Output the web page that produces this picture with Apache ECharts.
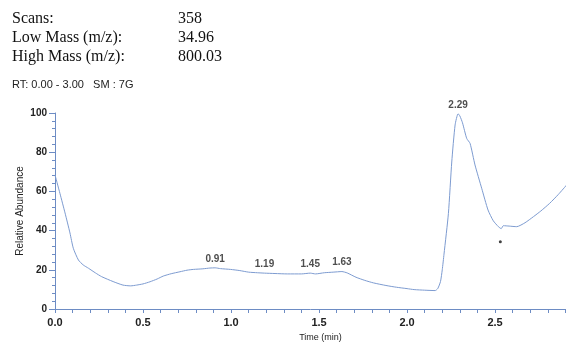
<!DOCTYPE html>
<html><head><meta charset="utf-8">
<script src="https://cdn.jsdelivr.net/npm/echarts@6/dist/echarts.min.js"></script>
<style>html,body{margin:0;padding:0;background:#fff}#c{width:566px;height:344px}</style>
</head><body><div id="c"></div>
<script>
// Chromatogram trace: retention time (min) and relative abundance (%)
var times = [0.00,0.028,0.057,0.085,0.104,0.133,0.16,0.19,0.23,0.265,0.33,0.386,0.43,0.464,0.50,0.54,0.58,0.615,0.66,0.71,0.75,0.786,0.84,0.88,0.91,0.94,0.997,1.05,1.10,1.15,1.19,1.25,1.32,1.40,1.45,1.48,1.53,1.58,1.63,1.66,1.71,1.76,1.81,1.88,1.94,2.00,2.04,2.10,2.16,2.175,2.19,2.20,2.21,2.235,2.254,2.273,2.29,2.30,2.315,2.339,2.358,2.386,2.424,2.46,2.49,2.519,2.535,2.547,2.58,2.623,2.67,2.718,2.76,2.81,2.86,2.907];
var abundance = [68.4,59,49,38.8,31,25,22.5,20.8,18.4,16.5,14,12.2,11.8,12.2,12.8,13.9,15.3,16.8,18,19,19.8,20.2,20.5,20.9,21,20.6,20.2,19.6,18.8,18.5,18.3,18.1,17.9,17.9,18.3,17.9,18.5,18.8,19.1,18.4,16.2,14.6,13.3,12,11.1,10.4,9.9,9.6,9.4,10.5,14,20,28,48.8,75,93.9,99.6,98.5,95,87,84.5,73.5,61.6,50.5,45,42,41,42.5,42.3,42,44,47.1,50,53.9,58.5,63.3];
var peakTimes = [0.91, 1.19, 1.45, 1.63, 2.29];
var peakLabels = ["0.91", "1.19", "1.45", "1.63", "2.29"];
var dotPoint = [[2.53, 34.3]];
var header = [["Scans:", "358"], ["Low Mass (m/z):", "34.96"], ["High Mass (m/z):", "800.03"]];
var rtText = "RT: 0.00 - 3.00   SM : 7G";
var xMin = 0, xMax = 2.903, xTickStep = 0.1, xLabelStep = 0.5;
var yMin = 0, yMax = 100, yInterval = 20;

function nearest(t){
  var bi = 0, bd = 1e9;
  for (var i = 0; i < times.length; i++){ var d = Math.abs(times[i]-t); if (d < bd){ bd = d; bi = i; } }
  return abundance[bi];
}
var lineData = times.map(function(t,i){ return [t, abundance[i]]; });
var peakData = peakTimes.map(function(t,i){ return {value:[t, nearest(t)], label:{formatter: peakLabels[i]}}; });

var axisColor = '#6d8cc4';
var graphics = [];
header.forEach(function(r, i){
  graphics.push({type:'text', left:12, top:11+i*19, style:{text:r[0], font:'16px "Liberation Serif"', fill:'#111'}});
  graphics.push({type:'text', left:178, top:11+i*19, style:{text:r[1], font:'16px "Liberation Serif"', fill:'#111'}});
});
graphics.push({type:'text', left:12, top:79, style:{text:rtText, font:'11px "Liberation Sans"', fill:'#222'}});

var chart = echarts.init(document.getElementById('c'));
chart.setOption({
  animation:false,
  backgroundColor:'#fff',
  graphic: graphics,
  grid:{left:55, top:113, bottom:35, right:0, outerBoundsMode:'none', containLabel:false},
  xAxis:{type:'value', min:xMin, max:xMax, interval:xTickStep,
    name:'Time (min)', nameLocation:'middle', nameGap:24, nameMoveOverlap:false,
    nameTextStyle:{fontFamily:'Liberation Sans', fontSize:9, color:'#222', padding:[0,0,0,20]},
    axisLine:{lineStyle:{color:axisColor, width:1}},
    axisTick:{show:true, length:4, lineStyle:{color:axisColor}},
    splitLine:{show:false},
    axisLabel:{fontFamily:'Liberation Sans', fontSize:11, fontWeight:'bold', color:'#222', margin:8, showMaxLabel:false,
      formatter:function(v){ var k = v/xLabelStep; return Math.abs(k-Math.round(k))<1e-6 ? v.toFixed(1) : ''; }}
  },
  yAxis:{type:'value', min:yMin, max:yMax, interval:yInterval,
    name:'Relative Abundance', nameLocation:'middle', nameGap:30, nameRotate:90, nameMoveOverlap:false,
    nameTextStyle:{fontFamily:'Liberation Sans', fontSize:10, color:'#222'},
    axisLine:{show:true, lineStyle:{color:axisColor, width:1}},
    axisTick:{show:true, length:6, lineStyle:{color:axisColor}},
    minorTick:{show:true, splitNumber:5, length:3, lineStyle:{color:axisColor}},
    splitLine:{show:false},
    axisLabel:{fontFamily:'Liberation Sans', fontSize:10, fontWeight:'bold', color:'#222', margin:8}
  },
  series:[
    {type:'line', data:lineData, showSymbol:false, smooth:0.2,
      lineStyle:{color:'#7d9bd0', width:1}},
    {type:'scatter', data:peakData, symbolSize:0, z:5,
      label:{show:true, position:'top', distance:4, fontFamily:'Liberation Sans', fontSize:10, fontWeight:'bold', color:'#222'}},
    {type:'scatter', data:dotPoint, symbolSize:3, itemStyle:{color:'#111'}}
  ]
});
</script></body></html>
